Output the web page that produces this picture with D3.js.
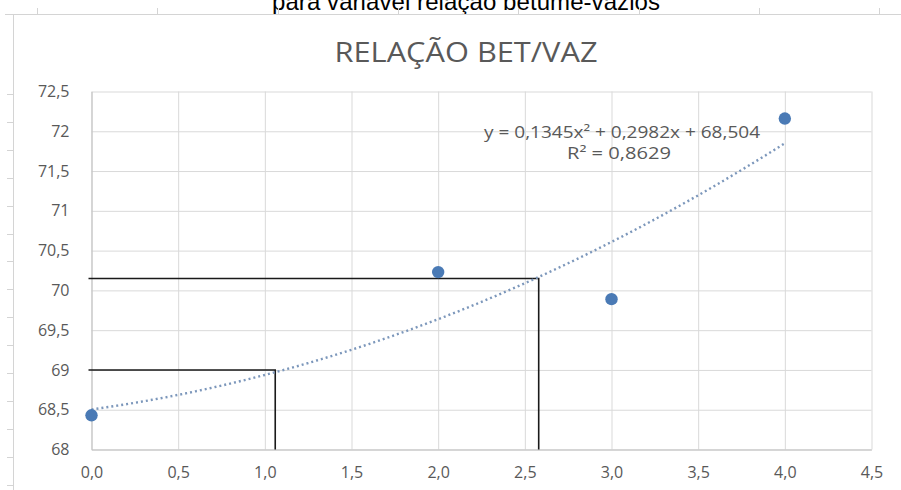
<!DOCTYPE html>
<html>
<head>
<meta charset="utf-8">
<script src="https://cdn.jsdelivr.net/npm/d3@7"></script>
<style>
  html, body { margin: 0; padding: 0; background: #fff; overflow: hidden; }
  svg { display: block; }
</style>
</head>
<body>
<div class="d3-container"></div>
<script>
// pontos medidos
const teorBetume = [0, 2, 3, 4];
const relacaoBV = [68.43, 70.23, 69.89, 72.16];

// linha de tendencia polinomial (ordem 2): a x^2 + b x + c
const trendCoef = [0.1345, 0.2982, 68.504];
const trendLabel = ["y = 0,1345x² + 0,2982x + 68,504", "R² = 0,8629"];

// leituras no grafico (x, y)
const leituras = [[1.06, 69], [2.58, 70.15]];

const xTicks = [0, 0.5, 1, 1.5, 2, 2.5, 3, 3.5, 4, 4.5];
const yTicks = [68, 68.5, 69, 69.5, 70, 70.5, 71, 71.5, 72, 72.5];

const chartTitle = "RELAÇÃO BET/VAZ";
const pageCaption = "para variável relação betume-vazios";

const width = 901, height = 490;
const margin = {top: 91.5, right: 29.5, bottom: 40.5, left: 91.5};
const innerW = width - margin.left - margin.right;
const innerH = height - margin.top - margin.bottom;

const svg = d3.select(".d3-container").append("svg")
    .attr("width", width).attr("height", height);

// texto do documento cortado no topo
svg.append("text")
    .attr("x", 466).attr("y", 10)
    .attr("text-anchor", "middle")
    .style("font-family", "'Liberation Sans', Arial, sans-serif")
    .style("font-size", "24px")
    .attr("textLength", 388)
    .style("fill", "#000")
    .text(pageCaption);

// regua do documento
const ruler = svg.append("g").style("stroke", "#d4d4d4").style("fill", "none");
ruler.append("line").attr("x1", 13.5).attr("x2", 13.5).attr("y1", 14).attr("y2", height);
ruler.append("line").attr("x1", 5).attr("x2", width).attr("y1", 14.5).attr("y2", 14.5);
d3.range(94, height, 27.9).forEach(v => {
    ruler.append("line").attr("x1", 7).attr("x2", 13).attr("y1", Math.round(v) + 0.5).attr("y2", Math.round(v) + 0.5);
});
d3.range(37, width, 120.3).forEach(v => {
    ruler.append("line").attr("x1", Math.round(v) + 0.5).attr("x2", Math.round(v) + 0.5).attr("y1", 8).attr("y2", 14);
});

const g = svg.append("g").attr("transform", `translate(${margin.left},${margin.top})`);

const x = d3.scaleLinear().domain([0, 4.5]).range([0, innerW]);
const y = d3.scaleLinear().domain([68, 72.5]).range([innerH, 0]);

const fmt = d => String(d).replace(".", ",");
const fmtX = d => d.toFixed(1).replace(".", ",");

// grades
g.append("g").attr("transform", `translate(0,${innerH})`)
    .call(d3.axisBottom(x).tickValues(xTicks).tickSize(-innerH).tickFormat(""))
    .call(a => a.select(".domain").remove())
    .call(a => a.selectAll("line").style("stroke", "#d9d9d9"));
g.append("g")
    .call(d3.axisLeft(y).tickValues(yTicks).tickSize(-innerW).tickFormat(""))
    .call(a => a.select(".domain").remove())
    .call(a => a.selectAll("line").style("stroke", "#d9d9d9"));

// eixos
g.append("g").attr("transform", `translate(0,${innerH})`)
    .call(d3.axisBottom(x).tickValues(xTicks).tickSize(0).tickPadding(17).tickFormat(fmtX))
    .call(a => a.select(".domain").style("stroke", "#bfbfbf"))
    .call(a => a.selectAll("text")
        .style("font-family", "'Open Sans', sans-serif").style("font-size", "16px").style("fill", "#595959"));
g.append("g")
    .call(d3.axisLeft(y).tickValues(yTicks).tickSize(0).tickPadding(22).tickFormat(fmt))
    .call(a => a.select(".domain").style("stroke", "#bfbfbf"))
    .call(a => a.selectAll("text")
        .style("font-family", "'Open Sans', sans-serif").style("font-size", "16px").style("fill", "#595959"));

// titulo
svg.append("text")
    .attr("x", 466).attr("y", 62)
    .attr("text-anchor", "middle")
    .style("font-family", "'Open Sans', sans-serif")
    .style("font-size", "28px")
    .attr("textLength", 263)
    .attr("lengthAdjust", "spacingAndGlyphs")
    .style("fill", "#595959")
    .text(chartTitle);

// linhas de leitura
leituras.forEach(([lx, ly]) => {
    g.append("path")
        .attr("d", d3.line()([[-3, y(ly)], [x(lx), y(ly)], [x(lx), innerH]]))
        .style("fill", "none").style("stroke", "#1a1a1a").style("stroke-width", 1.6);
});

// linha de tendencia
const trend = t => trendCoef[0] * t * t + trendCoef[1] * t + trendCoef[2];
const trendPts = d3.range(0, 4.001, 0.05).map(t => [t, trend(t)]);
g.append("path")
    .datum(trendPts)
    .attr("d", d3.line().x(d => x(d[0])).y(d => y(d[1])).curve(d3.curveMonotoneX))
    .style("fill", "none").style("stroke", "#7c97bb")
    .style("stroke-width", 2.4).style("stroke-dasharray", "2 3");

// pontos
g.selectAll("circle.pt")
    .data(teorBetume.map((t, i) => [t, relacaoBV[i]]))
    .join("circle").attr("class", "pt")
    .attr("cx", d => x(d[0])).attr("cy", d => y(d[1]))
    .attr("r", 6.2).style("fill", "#4a7ab5");

// equacao
const eqStyle = s => s.attr("text-anchor", "middle")
    .style("font-family", "'Open Sans', sans-serif")
    .style("font-size", "16px")
    .attr("lengthAdjust", "spacingAndGlyphs")
    .style("fill", "#595959");
svg.append("text").call(eqStyle)
    .attr("x", 622).attr("y", 138).attr("textLength", 276).text(trendLabel[0]);
svg.append("text").call(eqStyle)
    .attr("x", 619).attr("y", 159).attr("textLength", 104).text(trendLabel[1]);
</script>
</body>
</html>
